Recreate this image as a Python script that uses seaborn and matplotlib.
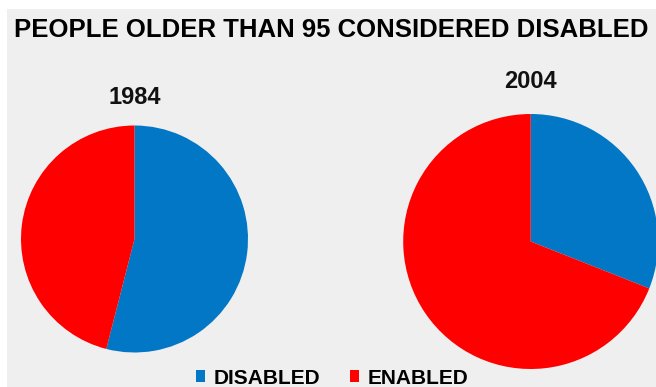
import matplotlib
matplotlib.use("Agg")
import matplotlib.pyplot as plt
from matplotlib.patches import Patch, Rectangle
import seaborn as sns

title = "PEOPLE OLDER THAN 95 CONSIDERED DISABLED"
categories = ["DISABLED", "ENABLED"]
years = ["1984", "2004"]
values_1984 = [54, 46]
values_2004 = [31, 69]
colors = ["#0277C6", "#FF0000"]

sns.set_theme(style="white")
plt.rcParams["font.family"] = ["Liberation Sans", "DejaVu Sans"]
plt.rcParams["text.color"] = "black"

W, H = 656, 387
fig = plt.figure(figsize=(W / 100, H / 100), dpi=100, facecolor="white")
fig.patches.append(Rectangle((7 / W, 0), 1, 1 - 9 / H, transform=fig.transFigure,
                             facecolor="#EFEFEF", edgecolor="none", zorder=-10))

def pie_axes(cx, cy, r):
    return fig.add_axes([(cx - r) / W, 1 - (cy + r) / H, 2 * r / W, 2 * r / H])

specs = [(values_1984, years[0], 134.5, 239, 113.5, 98),
         (values_2004, years[1], 530.7, 241.5, 127.5, 82)]
for vals, yr, cx, cy, r, ty in specs:
    ax = pie_axes(cx, cy, r)
    ax.pie(vals, colors=colors, startangle=90, counterclock=False, radius=1,
           wedgeprops=dict(linewidth=0))
    ax.set_xlim(-1, 1)
    ax.set_ylim(-1, 1)
    ax.set_aspect("equal")
    ax.axis("off")
    fig.text(cx / W, 1 - ty / H, yr, ha="center", va="center",
             fontsize=17, fontweight="bold", color="#111111")

fig.text(331 / W, 1 - 30 / H, title, ha="center", va="center",
         fontsize=18.5, fontweight="bold", color="#000000")

handles = [Patch(facecolor=c, edgecolor="none") for c in colors]
fig.legend(handles, categories, loc="center", bbox_to_anchor=(332 / W, 1 - 378 / H),
           ncol=2, frameon=False, prop=dict(size=15, weight="bold"),
           labelcolor="black",
           handlelength=0.45, handleheight=0.45, handletextpad=0.4,
           columnspacing=1.4, borderpad=0, borderaxespad=0)

fig.savefig("out.png", dpi=100, facecolor="white")
